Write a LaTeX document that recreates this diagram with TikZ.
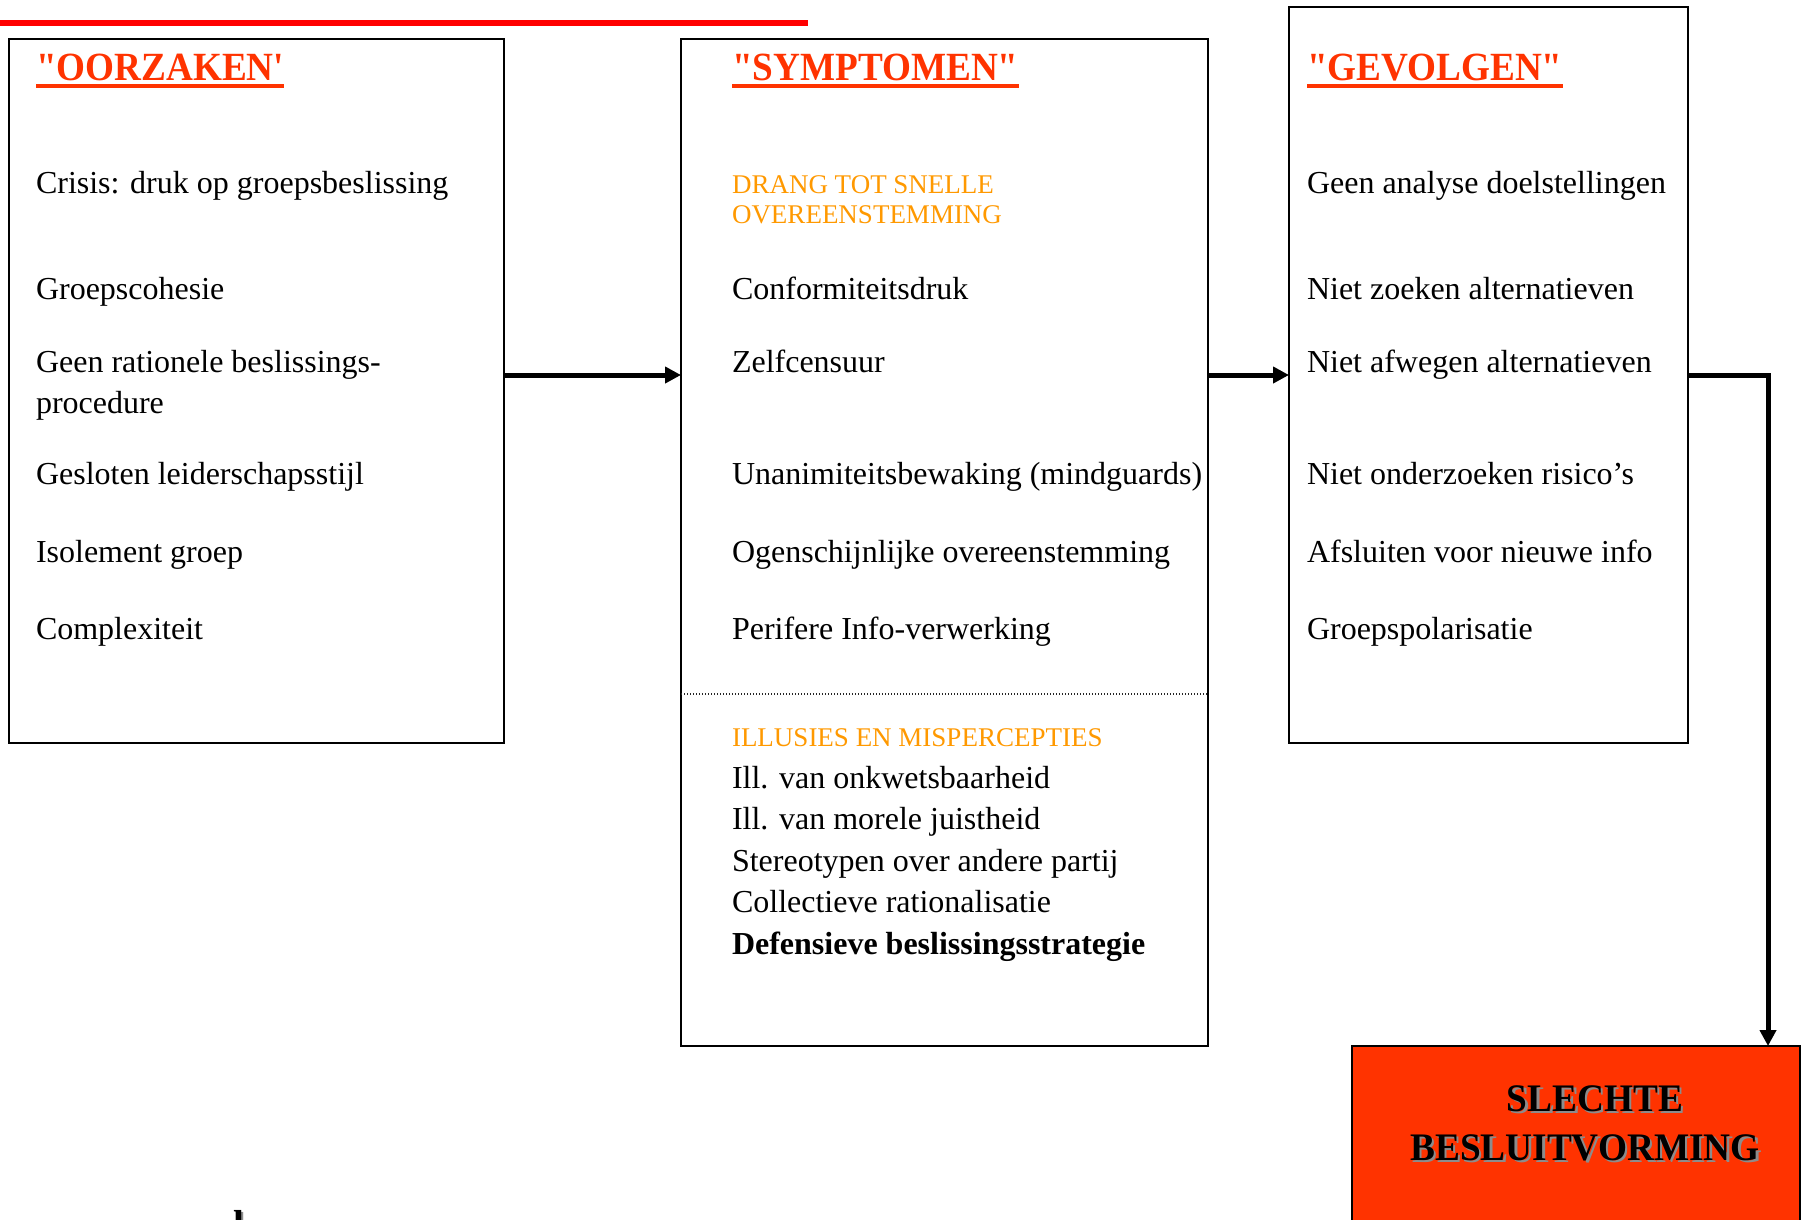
\documentclass[tikz,border=0pt]{standalone}
\usepackage{fontspec}
\usepackage{graphicx}
\setmainfont{Liberation Serif}
\newfontfamily\plainserif{Liberation Serif}
\usetikzlibrary{arrows.meta}
\definecolor{hdrred}{HTML}{FF3300}
\definecolor{orangeT}{HTML}{FF9900}
\definecolor{topred}{HTML}{FF0000}
\definecolor{shadowgray}{HTML}{8C8C8C}
\tikzset{
  box/.style={draw=black, line width=2.2pt, fill=white, outer sep=0pt, inner sep=0pt, anchor=north west},
  txt/.style={anchor=base west, inner sep=0pt, outer sep=0pt, text=black, font=\fontsize{32}{41.5}\selectfont},
  boldtxt/.style={txt, font=\fontsize{32}{41.5}\selectfont\bfseries},
  orgtxt/.style={anchor=base west, inner sep=0pt, outer sep=0pt, text=orangeT, font=\fontsize{27}{30}\selectfont},
  hdr/.style={anchor=base west, inner sep=0pt, outer sep=0pt, text=hdrred, font=\plainserif\fontsize{40}{44}\selectfont\bfseries},
  bigtxt/.style={anchor=base, inner sep=0pt, outer sep=0pt, font=\fontsize{39}{44}\selectfont\bfseries},
  conn/.style={line width=5pt, -{Triangle[length=16pt,width=16pt]}},
  sepline/.style={line width=1.3pt, dash pattern=on 1.3pt off 1.7pt, draw=black!85}
}
\begin{document}
\begin{tikzpicture}[x=1pt,y=-1pt]
\useasboundingbox (0,0) rectangle (1806,1219);
\clip (0,0) rectangle (1806,1219);
\fill[white] (0,0) rectangle (1806,1219);
% top red line
\fill[topred] (0,19.5) rectangle (808,26);

% boxes
\node[box, minimum width=495pt, minimum height=704pt] (b1) at (9,39) {};
\node[box, minimum width=527pt, minimum height=1007pt] (b2) at (681,39) {};
\node[box, minimum width=399pt, minimum height=736pt] (b3) at (1289,7) {};
\node[box, fill=hdrred, minimum width=448pt, minimum height=200pt] (b4) at (1352,1046) {};

% dotted separator in box 2
\draw[sepline] (b2.west |- 0,694) -- (b2.east |- 0,694);

% headers
\node[hdr] (h1) at (36,80) {\scalebox{0.93}[1]{"OORZAKEN'}};
\node[hdr] (h2) at (732,80) {\scalebox{0.93}[1]{"SYMPTOMEN"}};
\node[hdr] (h3) at (1307,80) {\scalebox{0.93}[1]{"GEVOLGEN"}};
\foreach \h in {h1,h2,h3}{
  \fill[hdrred] ([yshift=-4pt]\h.base west) rectangle ([yshift=-8pt]\h.base east);
}

% box 1 texts
\node[txt] (o1) at (36,193) {Crisis: druk op groepsbeslissing};
\node[txt] (o2) at (36,299) {Groepscohesie};
\node[txt] (o3) at (36,372) {Geen rationele beslissings-};
\node[txt] (o4) at (36,413) {procedure};
\node[txt] (o5) at (36,484) {Gesloten leiderschapsstijl};
\node[txt] (o6) at (36,562) {Isolement groep};
\node[txt] (o7) at (36,639) {Complexiteit};

% box 2 texts
\node[orgtxt] (s0a) at (732,193) {DRANG TOT SNELLE};
\node[orgtxt] (s0b) at (732,223) {OVEREENSTEMMING};
\node[txt] (s1) at (732,299) {Conformiteitsdruk};
\node[txt] (s2) at (732,372) {Zelfcensuur};
\node[txt] (s3) at (732,484) {Unanimiteitsbewaking (mindguards)};
\node[txt] (s4) at (732,562) {Ogenschijnlijke overeenstemming};
\node[txt] (s5) at (732,639) {Perifere Info-verwerking};
\node[orgtxt] (i0) at (732,746) {ILLUSIES EN MISPERCEPTIES};
\node[txt] (i1) at (732,788) {Ill. van onkwetsbaarheid};
\node[txt] (i2) at (732,829.5) {Ill. van morele juistheid};
\node[txt] (i3) at (732,871) {Stereotypen over andere partij};
\node[txt] (i4) at (732,912.5) {Collectieve rationalisatie};
\node[boldtxt] (i5) at (732,954) {Defensieve beslissingsstrategie};

% box 3 texts
\node[txt] (g1) at (1307,193) {Geen analyse doelstellingen};
\node[txt] (g2) at (1307,299) {Niet zoeken alternatieven};
\node[txt] (g3) at (1307,372) {Niet afwegen alternatieven};
\node[txt] (g4) at (1307,484) {Niet onderzoeken risico’s};
\node[txt] (g5) at (1307,562) {Afsluiten voor nieuwe info};
\node[txt] (g6) at (1307,639) {Groepspolarisatie};

% box 4 texts with shadow
\node[bigtxt, text=shadowgray] at (1597.5,1113.5) {\scalebox{0.956}[1]{SLECHTE}};
\node[bigtxt, text=black] (r1) at (1595,1111) {\scalebox{0.956}[1]{SLECHTE}};
\node[bigtxt, text=shadowgray] at (1587.5,1162.5) {\scalebox{0.956}[1]{BESLUITVORMING}};
\node[bigtxt, text=black] (r2) at (1585,1160) {\scalebox{0.956}[1]{BESLUITVORMING}};

% cut-off letter at bottom left (cut by the page edge, as in the reference)
\node[anchor=base west, inner sep=0pt, text=shadowgray, font=\fontsize{39}{44}\selectfont\bfseries] at (235.5,1239.5) {l};
\node[anchor=base west, inner sep=0pt, text=black, font=\fontsize{39}{44}\selectfont\bfseries] (bl) at (233,1237) {l};

% connectors
\coordinate (ay) at (0,375);
\coordinate (elbow) at (1768,375);
\draw[conn] (b1.east |- ay) -- (b2.west |- ay);
\draw[conn] (b2.east |- ay) -- (b3.west |- ay);
\draw[conn] (b3.east |- ay) -- (elbow) -- (elbow |- b4.north);
\end{tikzpicture}
\end{document}
